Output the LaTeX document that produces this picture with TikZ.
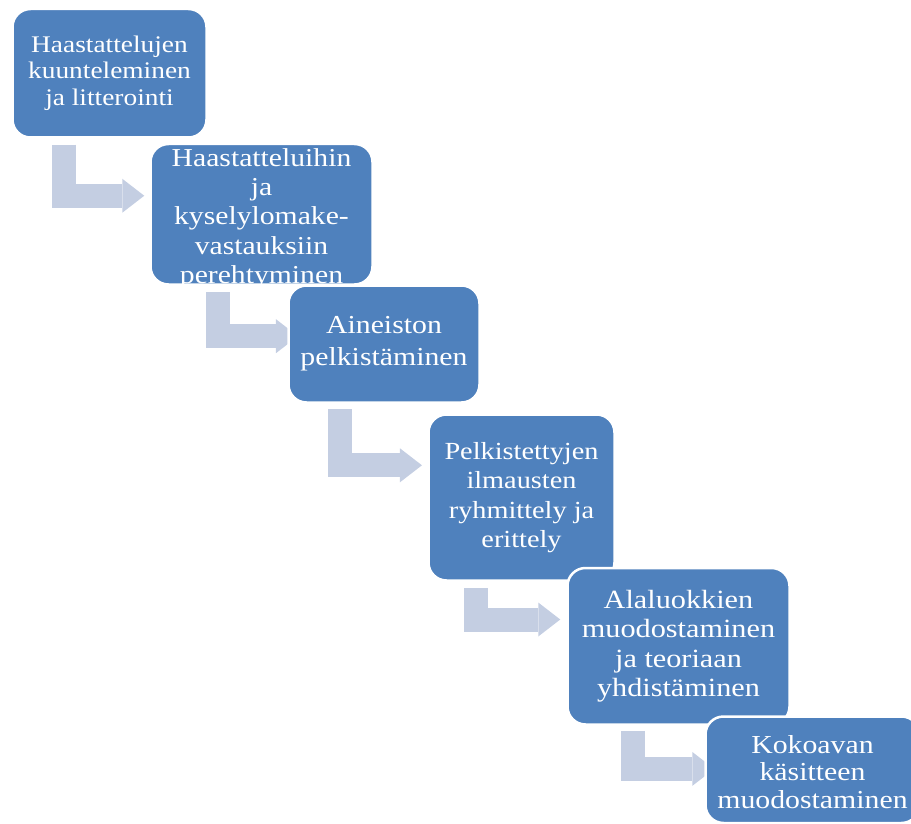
\documentclass[tikz,border=0pt]{standalone}
\usepackage{fontspec}
\setmainfont{Liberation Serif}[FakeStretch=1.15]
\usetikzlibrary{arrows.meta,calc}
\definecolor{boxblue}{RGB}{79,129,189}
\definecolor{arrowblue}{RGB}{196,206,226}
\pgfdeclarelayer{bg}
\pgfsetlayers{bg,main}
\tikzset{
  stepbox/.style={fill=boxblue, draw=white, line width=2.5pt, rounded corners=18pt, inner sep=0pt},
  steptext/.style={text=white, align=center, inner sep=0pt},
  flow/.style={draw=arrowblue, line width=24pt, line join=miter,
    -{Triangle[width=34pt,length=22pt,line width=0pt]}},
}
\begin{document}
\begin{tikzpicture}[x=1pt,y=-1pt]
\useasboundingbox (0,0) rectangle (911,824);
% box 1
\node[stepbox, minimum width=194pt, minimum height=128.5pt] (b1) at (109.5,73.25) {};
\node[steptext, font=\fontsize{23.8}{26.7}\selectfont] (t1) at (b1) {Haastattelujen\\kuunteleminen\\ja litterointi};
% box 2
\node[stepbox, minimum width=222pt, minimum height=140.5pt] (b2) at (261.5,214.25) {};
\begin{scope}
\clip[rounded corners=18pt] (b2.south west) rectangle (b2.north east);
\node[steptext, font=\fontsize{25.8}{29.3}\selectfont] (t2) at ($(b2)+(0,4.5)$) {Haastatteluihin\\ja\\kyselylomake-\\vastauksiin\\perehtyminen};
\end{scope}
% box 3
\node[stepbox, minimum width=191pt, minimum height=117pt] (b3) at (384,344) {};
\node[steptext, font=\fontsize{25.9}{31.7}\selectfont] (t3) at (b3) {Aineiston\\pelkistäminen};
% box 4
\node[stepbox, minimum width=186pt, minimum height=166pt] (b4) at (521.5,497.5) {};
\node[steptext, font=\fontsize{24.6}{29.5}\selectfont] (t4) at (b4) {Pelkistettyjen\\ilmausten\\ryhmittely ja\\erittely};
% box 5
\node[stepbox, minimum width=222pt, minimum height=156.5pt] (b5) at (678.5,646.25) {};
\node[steptext, font=\fontsize{26.3}{29.5}\selectfont] (t5) at (b5) {Alaluokkien\\muodostaminen\\ja teoriaan\\yhdistäminen};
% box 6
\node[stepbox, minimum width=214pt, minimum height=106.5pt] (b6) at (812.5,769.75) {};
\node[steptext, font=\fontsize{25.9}{27.5}\selectfont] (t6) at ($(b6)+(0,2)$) {Kokoavan\\käsitteen\\muodostaminen};
% connectors
\begin{pgfonlayer}{bg}
\draw[flow] ($(b1.south west)+(53,6)$) |- ($(b2.west)+(-5,-18.5)$);
\draw[flow] ($(b2.south west)+(68.3,6.7)$) |- ($(b3.west)+(10.7,-7.8)$);
\draw[flow] ($(b3.south west)+(52.3,5.3)$) |- ($(b4.west)+(-5.3,-32.2)$);
\draw[flow] ($(b4.south west)+(49.2,6.7)$) |- ($(b5.west)+(-6,-26.75)$);
\draw[flow] ($(b5.south west)+(66.9,5)$) |- ($(b6.west)+(10,-0.85)$);
\end{pgfonlayer}
\end{tikzpicture}
\end{document}
